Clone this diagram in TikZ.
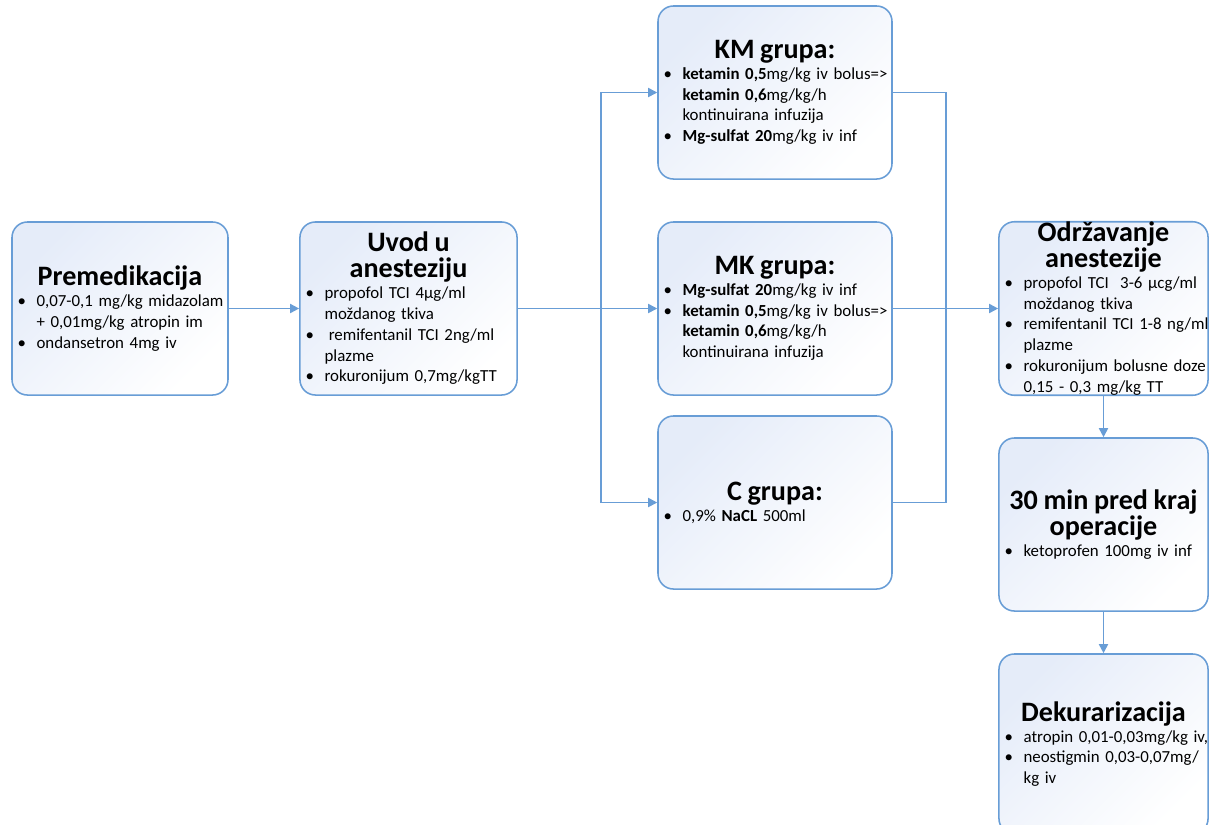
\documentclass[tikz,border=0pt]{standalone}
\usepackage{fontspec}
\setmainfont{Carlito}
\usetikzlibrary{arrows.meta}

\definecolor{boxline}{RGB}{104,157,214}
\definecolor{boxtint}{RGB}{229,236,249}

\newcommand{\boxhead}[1]{{\centering\fontsize{20}{18.5}\selectfont\bfseries #1\par}}
\newcommand{\bitem}[1]{\par\hangindent=13.5pt\hangafter=1\noindent\makebox[13.5pt][l]{\textbullet}#1\par}

\tikzset{
  stage/.style={draw=boxline, line width=1.1pt, rounded corners=11pt,
    top color=boxtint, bottom color=white, shading angle=45,
    minimum height=4.325cm, inner xsep=4pt, inner ysep=0pt,
    font=\fontsize{12}{14.8}\selectfont, align=left},
  flow/.style={draw=boxline, line width=1.2pt, -{Triangle[length=6.5pt,width=6.5pt]}},
  link/.style={draw=boxline, line width=1.2pt}
}

\begin{document}
\begin{tikzpicture}[x=0.025cm, y=-0.025cm]
    \useasboundingbox (0,0) rectangle (1209,824);

    \coordinate (P) at (120,308.5);
    \coordinate (U) at (408.5,308.5);
    \coordinate (G1) at (775,92.5);
    \coordinate (G2) at (775,308.5);
    \coordinate (G3) at (775,502.5);
    \coordinate (R1) at (1103.5,308.5);
    \coordinate (R2) at (1103.5,524.5);
    \coordinate (R3) at (1103.5,744);
    \coordinate (split) at (601,308.5);
    \coordinate (join) at (946,308.5);

    \node[stage, text width=145.6pt] (premed) at (P) {%
      \raggedright\boxhead{Premedikacija}
      \bitem{\mbox{0,07-0,1 mg/kg midazolam}\newline+ 0,01mg/kg atropin im}
      \bitem{ondansetron 4mg iv}};

    \node[stage, text width=146.4pt] (uvod) at (U) {%
      \raggedright\boxhead{Uvod u\\anesteziju}
      \bitem{propofol TCI 4µg/ml\newline moždanog tkiva}
      \bitem{\hspace{0.25em}remifentanil TCI 2ng/ml\newline plazme}
      \bitem{rokuronijum 0,7mg/kgTT}};

    \node[stage, text width=158.4pt] (km) at (G1) {%
      \raggedright\boxhead{KM grupa:}
      \bitem{\mbox{\textbf{ketamin 0,5}mg/kg iv bolus=>}\newline\textbf{ketamin 0,6}mg/kg/h\newline kontinuirana infuzija}
      \bitem{\textbf{Mg-sulfat 20}mg/kg iv inf}};

    \node[stage, text width=158.4pt] (mk) at (G2) {%
      \raggedright\boxhead{MK grupa:}
      \bitem{\textbf{Mg-sulfat 20}mg/kg iv inf}
      \bitem{\mbox{\textbf{ketamin 0,5}mg/kg iv bolus=>}\newline\textbf{ketamin 0,6}mg/kg/h\newline kontinuirana infuzija}};

    \node[stage, text width=158.4pt] (cgr) at (G3) {%
      \raggedright\boxhead{C grupa:}
      \bitem{0,9\% \textbf{NaCL} 500ml}};

    \node[stage, text width=140.7pt] (odrz) at (R1) {%
      \raggedright\boxhead{Održavanje\\anestezije}
      \bitem{\mbox{propofol TCI\ \ 3-6 µcg/ml}\newline moždanog tkiva}
      \bitem{\mbox{remifentanil TCI 1-8 ng/ml}\newline plazme}
      \bitem{\mbox{rokuronijum bolusne doze}\newline 0,15 - 0,3 mg/kg TT}};

    \node[stage, text width=140.7pt] (kraj) at (R2) {%
      \raggedright\boxhead{\mbox{30 min pred kraj}\\operacije}
      \bitem{ketoprofen 100mg iv inf}};

    \node[stage, text width=140.7pt, minimum height=4.5cm] (dekur) at (R3) {%
      \raggedright\boxhead{Dekurarizacija}
      \bitem{\mbox{atropin 0,01-0,03mg/kg iv,}}
      \bitem{neostigmin 0,03-0,07mg/\newline kg iv}};

    \draw[flow] (premed) -- (uvod);
    \draw[link] (uvod) -- (split);
    \draw[flow] (split) |- (km);
    \draw[flow] (split) -- (mk);
    \draw[flow] (split) |- (cgr);
    \draw[link] (km) -| (join);
    \draw[link] (cgr) -| (join);
    \draw[flow] (mk) -- (odrz);
    \draw[flow] (odrz) -- (kraj);
    \draw[flow] (kraj) -- (dekur);
  \end{tikzpicture}
\end{document}
